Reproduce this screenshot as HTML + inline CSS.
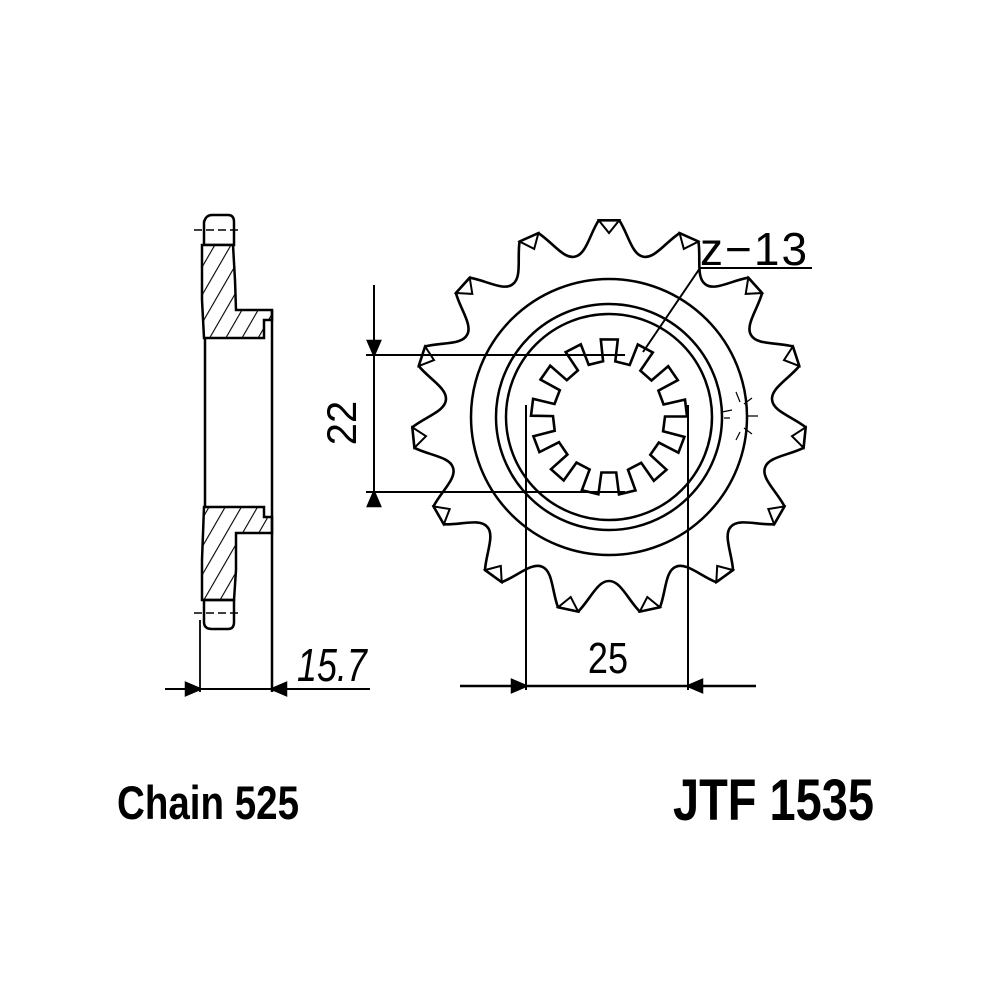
<!DOCTYPE html>
<html><head><meta charset="utf-8"><style>
html,body{margin:0;padding:0;background:#fff}
svg{display:block}
text{font-family:"Liberation Sans",sans-serif;fill:#000}
</style></head><body>
<svg id="s" width="1000" height="1000" viewBox="0 0 1000 1000" xmlns="http://www.w3.org/2000/svg">
<defs>
<pattern id="h" patternUnits="userSpaceOnUse" width="14" height="14" patternTransform="rotate(30)">
<rect width="14" height="14" fill="#fff"/><line x1="0" y1="0" x2="0" y2="14" stroke="#000" stroke-width="2.2"/>
</pattern>
</defs>
<g fill="none" stroke="#000" stroke-width="2.5">
<path d="M204,245 L204,222 Q206,215 212,215 L228,215 Q234,215 234,222 L234,245 Z"/>
<line x1="194" y1="230" x2="240" y2="230" stroke-width="1.5" stroke-dasharray="8,4"/>
<path d="M202,245 L233,245 L235,280 L236,310 L272,310 L272,320 L264,320 L264,338 L204,338 L202,300 Z" fill="url(#h)"/>
<path d="M204,507 L264,507 L264,517 L272,517 L272,533 L236,533 L236,570 L234,600 L202,600 L202,560 Z" fill="url(#h)"/>
<path d="M204,600 L234,600 L234,622 Q234,629 228,629 L212,629 Q204,629 204,622 Z"/>
<line x1="194" y1="613" x2="240" y2="613" stroke-width="1.5" stroke-dasharray="8,4"/>
<line x1="205" y1="338" x2="205" y2="507"/>
<line x1="272" y1="310" x2="272" y2="692"/>
<line x1="200" y1="620" x2="200" y2="692" stroke-width="1.8"/>
<line x1="165" y1="689" x2="370" y2="689" stroke-width="2"/>
<path d="M186,683 L200,689 L186,695 Z M286,683 L272,689 L286,695 Z" fill="#000"/>
<path id="sp" stroke-width="2.6"/>
<g id="tri" stroke-width="2"></g>
<circle cx="609" cy="417" r="138"/>
<circle cx="609" cy="417" r="113"/>
<circle cx="609" cy="417" r="103"/>
<path id="spl" stroke-width="2.6"/>
<line x1="374" y1="285" x2="374" y2="505" stroke-width="2"/>
<line x1="366" y1="355" x2="625" y2="355" stroke-width="2"/>
<line x1="366" y1="492" x2="625" y2="492" stroke-width="2"/>
<path d="M368,341 L374,355 L380,341 Z M368,506 L374,492 L380,506 Z" fill="#000"/>
<line x1="526" y1="405" x2="526" y2="690" stroke-width="2"/>
<line x1="688" y1="405" x2="688" y2="690" stroke-width="2"/>
<line x1="460" y1="686" x2="756" y2="686" stroke-width="2.5"/>
<path d="M512,680 L526,686 L512,692 Z M702,680 L688,686 L702,692 Z" fill="#000"/>
<line x1="700" y1="268" x2="812" y2="268" stroke-width="2"/>
<line x1="700" y1="268" x2="643" y2="352" stroke-width="2"/>
<path d="M722,412 L732,410 M724,418 L730,418 M736,392 L740,402 M744,404 L752,398 M746,416 L758,416 M744,428 L752,434 M736,440 L740,432" stroke-width="1.2"/>
</g>
<text x="700" y="265" font-size="46" letter-spacing="2">z−13</text>
<text x="0" y="0" font-size="42" transform="translate(356 423) rotate(-90) scale(0.95 1)" text-anchor="middle">22</text>
<text x="608" y="673" font-size="44" text-anchor="middle" transform="translate(608 0) scale(0.82 1) translate(-608 0)">25</text>
<text x="297" y="681" font-size="46" font-style="italic" transform="translate(297 0) scale(0.78 1) translate(-297 0)">15.7</text>
<text x="117" y="819" font-size="47" font-weight="bold" transform="translate(117 0) scale(0.82 1) translate(-117 0)">Chain 525</text>
<text x="673" y="820" font-size="58" font-weight="bold" transform="translate(673 0) scale(0.81 1) translate(-673 0)">JTF 1535</text>
</svg>
<script>
(function(){
var cx=609,cy=417,R=197,Rv=164,d="",t="";
function P(a,r){var q=a*Math.PI/180;return (cx+r*Math.cos(q)).toFixed(1)+","+(cy+r*Math.sin(q)).toFixed(1);}
for(var i=0;i<15;i++){
 var a=-90+24*i;
 if(i==0)d+="M"+P(a-3,R);
 d+=" L"+P(a+3,R)+" C"+P(a+6,184)+" "+P(a+8,Rv)+" "+P(a+12,Rv)+" C"+P(a+16,Rv)+" "+P(a+18,184)+" "+P(a+21,R);
 t+='<path d="M'+P(a-3,R)+" L"+P(a+3,R)+" L"+P(a,184)+' Z"/>';
}
document.getElementById("sp").setAttribute("d",d+" Z");
document.getElementById("tri").innerHTML=t;
var s="",n=13,per=360/n,o=-96,r1=78,r2=56;
for(var k=0;k<n;k++){
 var b=o+k*per;
 s+=(k==0?"M":" L")+P(b,r1)+" L"+P(b+per*0.45,r1)+" L"+P(b+per*0.45,r2)+" L"+P(b+per,r2);
}
document.getElementById("spl").setAttribute("d",s+" Z");
})();
</script>
</body></html>
